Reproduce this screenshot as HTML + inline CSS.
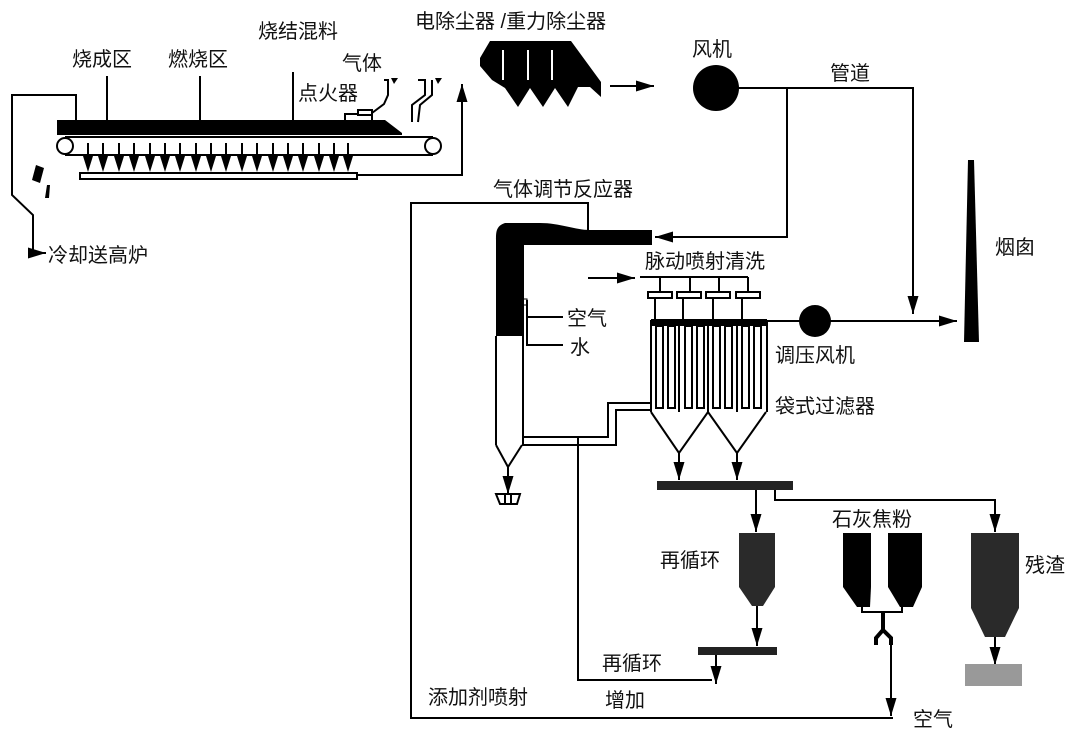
<!DOCTYPE html>
<html><head><meta charset="utf-8"><style>
html,body{margin:0;padding:0;background:#fff;}
svg{display:block;}
text{font-family:"Liberation Sans","Noto Sans CJK SC",sans-serif;font-size:20px;fill:#111;}
</style></head><body>
<svg width="1080" height="736" viewBox="0 0 1080 736" xmlns="http://www.w3.org/2000/svg">
<defs>
<marker id="b" viewBox="0 0 10 10" refX="10" refY="5" markerWidth="18" markerHeight="11" markerUnits="userSpaceOnUse" orient="auto" preserveAspectRatio="none"><path d="M0,0 L10,5 L0,10 z" fill="#000"/></marker>
<g id="ar"><line x1="0" y1="143" x2="0" y2="160" stroke="#000" stroke-width="2"/><path d="M-5,156 L5,156 L0,172 Z" fill="#000"/></g>
</defs>
<g stroke="#000" stroke-width="2" fill="none">
<polyline points="76,120 76,95 12,95 12,195 33,215 33,253 46,253" marker-end="url(#b)"/>
<line x1="107" y1="76" x2="107" y2="120"/>
<line x1="200" y1="76" x2="200" y2="120"/>
<line x1="293" y1="72" x2="293" y2="120"/>
<line x1="65" y1="137" x2="433" y2="137"/>
<line x1="65" y1="155" x2="433" y2="155"/>
<circle cx="65" cy="146" r="8" fill="#fff"/>
<circle cx="433" cy="146" r="8" fill="#fff"/>
<rect x="80" y="173" width="277" height="6" fill="#fff"/>
<polyline points="357,175 462,175 462,84" marker-end="url(#b)"/>
<rect x="345" y="114" width="27" height="7" fill="#fff"/>
<rect x="358" y="110" width="14" height="5" fill="#fff"/>
<path d="M372,113 L384,104 L388,95 L388,80 L384,80"/>
<path d="M412,122 L412,105 L425,95 L425,80 L418,80"/>
<path d="M418,122 L420,105 L432,95 L432,80"/>
<line x1="610" y1="86" x2="654" y2="86" marker-end="url(#b)"/>
<polyline points="738,88 913,88 913,314" marker-end="url(#b)"/>
<polyline points="787,88 787,237 655,237" marker-end="url(#b)"/>
<polyline points="588,230 588,203 411,203 411,718 893,718"/>
<line x1="496" y1="336" x2="496" y2="445"/>
<line x1="523" y1="245" x2="523" y2="445"/>
<polyline points="496,445 508,467 522,445"/>
<line x1="508" y1="467" x2="508" y2="494" marker-end="url(#b)"/>
<path d="M496,494 L520,494 L517,504 L500,504 Z M505,494 L505,504 M511,494 L511,504"/>
<polyline points="527,300 527,345 563,345"/>
<line x1="527" y1="317" x2="563" y2="317"/>
<rect x="523" y="299" width="4" height="6" stroke-width="1"/>
<polyline points="524,437 608,437 608,403 652,403"/>
<polyline points="522,445 616,445 616,410 652,410"/>
<polyline points="578,437 578,680 712,680"/>
<line x1="588" y1="278" x2="635" y2="278" marker-end="url(#b)"/>
<polyline points="640,277 748,277"/>
<line x1="660" y1="277" x2="660" y2="292"/><line x1="690" y1="277" x2="690" y2="292"/>
<line x1="719" y1="277" x2="719" y2="292"/><line x1="748" y1="277" x2="748" y2="292"/>
<rect x="648" y="292" width="24" height="6"/><rect x="677" y="292" width="24" height="6"/>
<rect x="706" y="292" width="24" height="6"/><rect x="736" y="292" width="24" height="6"/>
<line x1="655" y1="298" x2="655" y2="320"/><line x1="683" y1="298" x2="683" y2="320"/>
<line x1="713" y1="298" x2="713" y2="320"/><line x1="742" y1="298" x2="742" y2="320"/>
<line x1="651" y1="320" x2="651" y2="412"/><line x1="767" y1="320" x2="767" y2="412"/>
<rect x="656" y="326" width="7" height="82"/><rect x="668" y="326" width="7" height="82"/>
<rect x="685" y="326" width="7" height="82"/><rect x="697" y="326" width="7" height="82"/>
<rect x="713" y="326" width="7" height="82"/><rect x="725" y="326" width="7" height="82"/>
<rect x="742" y="326" width="7" height="82"/><rect x="754" y="326" width="7" height="82"/>
<line x1="679" y1="326" x2="679" y2="412"/><line x1="708" y1="326" x2="708" y2="412"/><line x1="737" y1="326" x2="737" y2="412"/>
<polyline points="651,412 679,453 708,412 737,453 766,412"/>
<line x1="679" y1="453" x2="679" y2="480" marker-end="url(#b)"/>
<line x1="737" y1="453" x2="737" y2="480" marker-end="url(#b)"/>
<line x1="767" y1="321" x2="800" y2="321"/>
<line x1="830" y1="321" x2="957" y2="321" marker-end="url(#b)"/>
<line x1="756" y1="490" x2="756" y2="532" marker-end="url(#b)"/>
<polyline points="775,490 775,500 995,500 995,532" marker-end="url(#b)"/>
<line x1="757" y1="606" x2="757" y2="646" marker-end="url(#b)"/>
<line x1="716" y1="655" x2="716" y2="684" marker-end="url(#b)"/>
<polyline points="862,606 862,612 902,612 902,606"/>
<path d="M883,612 L883,630 L876,638 L876,645 M883,630 L891,638 L891,645" stroke-width="4"/>
<line x1="891" y1="645" x2="891" y2="716" marker-end="url(#b)"/>
<line x1="995" y1="637" x2="995" y2="665" marker-end="url(#b)"/>
</g>
<g fill="#000">
<path d="M57,120 L385,120 L402,133 L402,135 L57,135 Z"/>
<use href="#ar" x="88"/><use href="#ar" x="103"/><use href="#ar" x="119"/><use href="#ar" x="134"/><use href="#ar" x="150"/><use href="#ar" x="165"/><use href="#ar" x="180"/><use href="#ar" x="196"/><use href="#ar" x="211"/><use href="#ar" x="226"/><use href="#ar" x="242"/><use href="#ar" x="257"/><use href="#ar" x="273"/><use href="#ar" x="288"/><use href="#ar" x="303"/><use href="#ar" x="319"/><use href="#ar" x="334"/><use href="#ar" x="348"/>
<path d="M36,165 L44,168 L40,183 L32,180 Z"/><path d="M47,185 L50,185 L49,198 L45,198 Z"/>
<path d="M391,78 L398,78 L394,84 Z"/><path d="M435,78 L442,78 L438,84 Z"/>
<path d="M490,41 L571,41 L601,82 L601,97 L590,87 L578,87 L568,107 L555,88 L543,107 L530,88 L518,107 L505,88 L492,80 L480,66 L480,58 Z"/>
<circle cx="716" cy="88" r="23"/>
<path d="M505,223 C496,226 496,232 496,240 L496,336 L523,336 L523,245 L560,245 Q575,245 590,245 L652,245 L652,230 L590,230 C575,230 560,223 540,223 Z"/>
<rect x="651" y="319" width="116" height="7"/>
<circle cx="815" cy="321" r="16"/>
<path d="M968,160 L974,160 L979,342 L964,342 Z"/>
<rect x="657" y="481" width="136" height="9" fill="#222"/>
<path d="M739,533 L775,533 L775,587 L763,606 L752,606 L739,587 Z" fill="#2a2a2a"/>
<rect x="698" y="647" width="79" height="8" fill="#222"/>
<path d="M843,533 L871,533 L871,587 L870,607 L857,607 L843,587 Z"/>
<path d="M888,533 L922,533 L922,587 L913,607 L900,607 L888,587 Z"/>
<path d="M971,533 L1019,533 L1019,608 L1005,637 L985,637 L971,608 Z" fill="#2a2a2a"/>
<rect x="965" y="664" width="57" height="22" fill="#999"/>
</g>
<g fill="#fff" stroke="none">
<rect x="502" y="50" width="2" height="30"/><rect x="527" y="50" width="2" height="30"/><rect x="551" y="50" width="2" height="30"/>
</g>
<g>
<text x="72" y="66">烧成区</text>
<text x="168" y="66">燃烧区</text>
<text x="258" y="38">烧结混料</text>
<text x="342" y="70">气体</text>
<text x="298" y="100">点火器</text>
<text x="48" y="262">冷却送高炉</text>
<text x="415" y="28">电除尘器 /重力除尘器</text>
<text x="692" y="56">风机</text>
<text x="830" y="80">管道</text>
<text x="493" y="196">气体调节反应器</text>
<text x="645" y="268">脉动喷射清洗</text>
<text x="567" y="325">空气</text>
<text x="570" y="354">水</text>
<text x="995" y="254">烟囱</text>
<text x="775" y="362">调压风机</text>
<text x="775" y="413">袋式过滤器</text>
<text x="832" y="526">石灰焦粉</text>
<text x="660" y="567">再循环</text>
<text x="1025" y="572">残渣</text>
<text x="602" y="670">再循环</text>
<text x="428" y="704">添加剂喷射</text>
<text x="605" y="707">增加</text>
<text x="913" y="726">空气</text>
</g>
</svg>
</body></html>
